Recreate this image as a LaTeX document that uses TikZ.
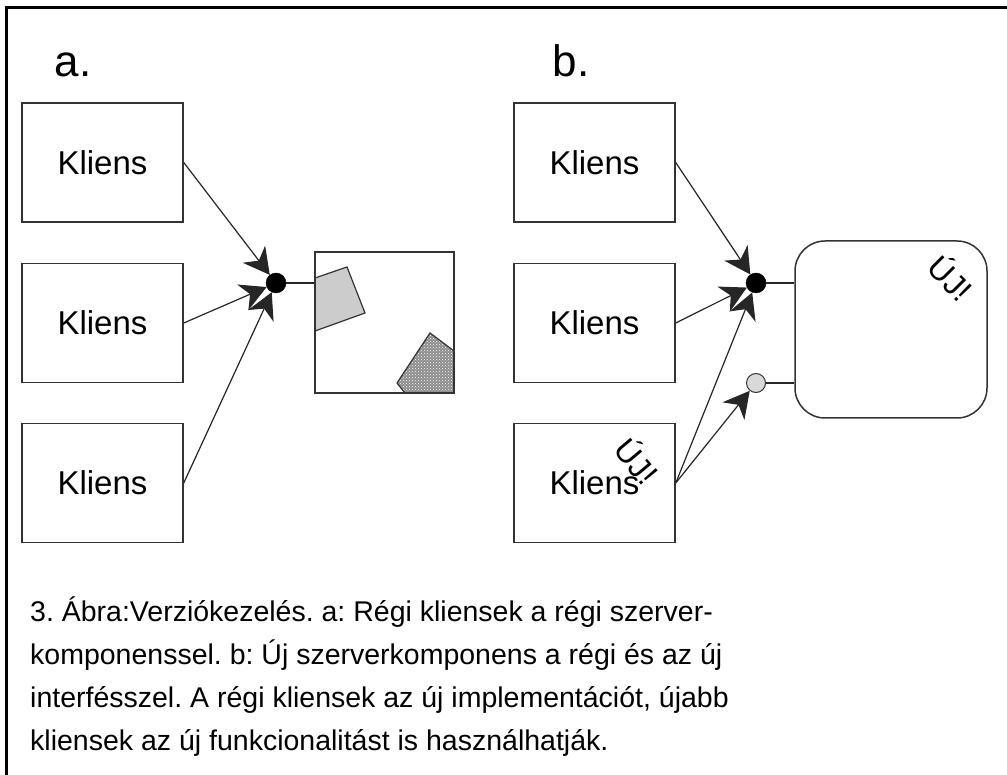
\documentclass[tikz,border=0pt]{standalone}
\usepackage{fontspec}
\setmainfont{Liberation Sans}
\usetikzlibrary{arrows.meta,patterns,calc}
\begin{document}
\frenchspacing
\begin{tikzpicture}[x=1pt,y=-1pt,
  box/.style={draw=black!80,line width=1.5pt,minimum width=161pt,minimum height=119pt,inner sep=0pt,font=\fontsize{33}{40}\selectfont},
  conn/.style={line width=1.2pt,black!85},
  arr/.style={conn,-{Stealth[length=26pt,width=28pt,inset=8pt]}},
  port/.style={circle,draw,fill=black,minimum size=20pt,inner sep=0pt},
  newport/.style={circle,draw=black!80,line width=1pt,fill=black!15,minimum size=19pt,inner sep=0pt},
  tag/.style={font=\fontsize{32}{36}\selectfont},
  panel/.style={font=\fontsize{44}{52}\selectfont,anchor=base}]
\useasboundingbox (0,0) rectangle (1007,775);
% frame
\draw[line width=3.5pt] (1007,7.5) -- (6.5,7.5) -- (6.5,775);

% panel a
\node[panel] (la) at (73,77) {a.};
\node[box] (k1) at (102.5,162.5) {Kliens};
\node[box] (k2) at (102.5,323) {Kliens};
\node[box] (k3) at (102.5,483) {Kliens};
\node[draw=black!80,line width=1.5pt,minimum width=139pt,minimum height=141pt,inner sep=0pt] (srvA) at (384.5,322.5) {};
% components inside the old server
\filldraw[fill=black!20,draw=black!80,line width=1.2pt] (315,278) -- (347,267) -- (365,313) -- (315,331) -- cycle;
\fill[black!45] (397,383) -- (430,333) -- (454,351) -- (454,393) -- (405,393) -- cycle;
\fill[pattern=crosshatch dots,pattern color=white] (397,383) -- (430,333) -- (454,351) -- (454,393) -- (405,393) -- cycle;
\draw[black!80,line width=1.2pt] (397,383) -- (430,333) -- (454,351) -- (454,393) -- (405,393) -- cycle;
\node[draw=black!80,line width=1.5pt,minimum width=139pt,minimum height=141pt,inner sep=0pt] at (srvA.center) {};
\node[port] (pa) at (276,283) {};
\draw[conn] (pa) -- (pa -| srvA.west);
\draw[arr] (k1.east) -- (pa);
\draw[arr] (k2.east) -- (pa);
\draw[arr] (k3.east) -- (pa);

% panel b
\node[panel] (lb) at (571,77) {b.};
\node[box] (m1) at (594.5,162.5) {Kliens};
\node[box] (m2) at (594.5,323) {Kliens};
\node[box] (m3) at (594.5,483) {Kliens};
\node[draw=black!80,line width=1.5pt,rounded corners=30pt,minimum width=192pt,minimum height=177pt,inner sep=0pt] (srvB) at (891,329.5) {};
\node[tag,rotate=-45] (ub) at (952,277) {ÚJ!};
\node[tag,rotate=-50] (um) at (638,460) {ÚJ!};
\node[port] (pb) at (756,283) {};
\node[newport] (qb) at (756,383) {};
\draw[conn] (pb) -- (pb -| srvB.west);
\draw[conn] (qb) -- (qb -| srvB.west);
\draw[arr] (m1.east) -- (pb);
\draw[arr] (m2.east) -- (pb);
\draw[arr] (m3.east) -- (pb);
\draw[arr] (m3.east) -- (qb);

% caption
\node[anchor=north west,align=left,font=\fontsize{28.5}{43}\selectfont,inner sep=0pt] (cap) at (30,597)
  {3. Ábra:Verziókezelés. a: Régi kliensek a régi szerver-\\
   komponenssel. b: Új szerverkomponens a régi és az új\\
   interfésszel. A régi kliensek az új implementációt, újabb\\
   kliensek az új funkcionalitást is használhatják.};
\end{tikzpicture}
\end{document}
